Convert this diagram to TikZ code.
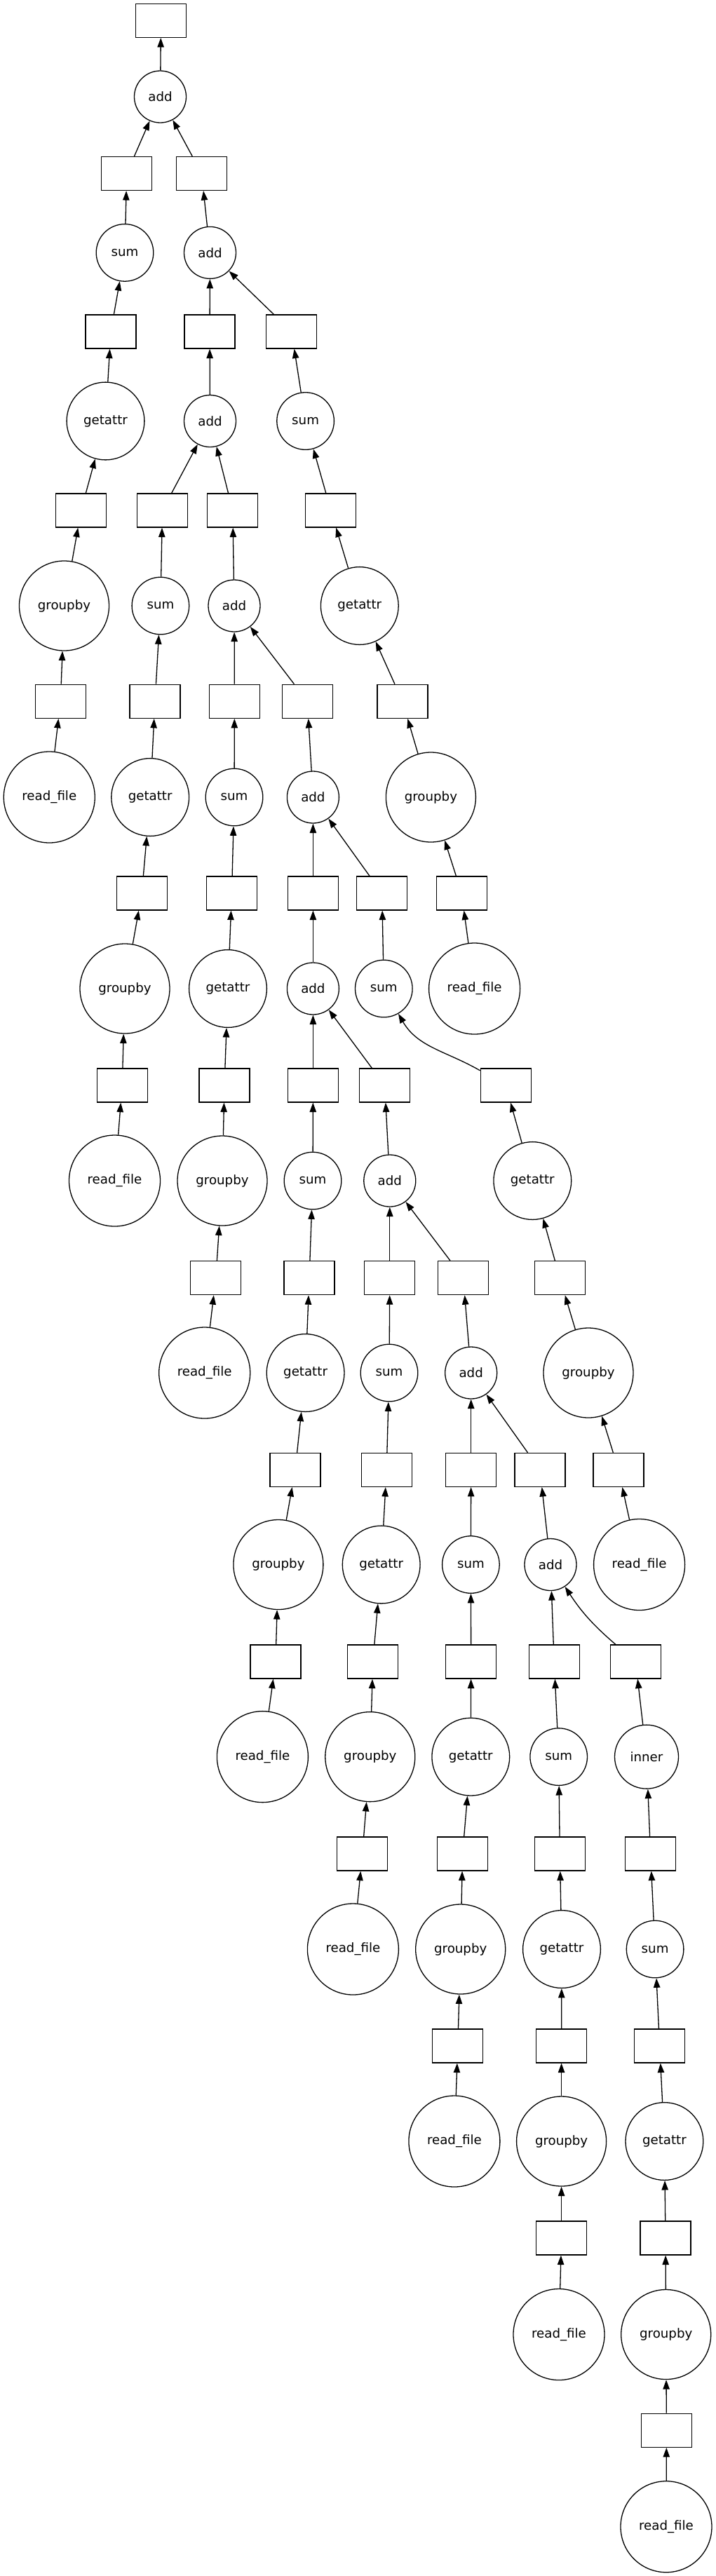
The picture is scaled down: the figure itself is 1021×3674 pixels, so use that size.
\documentclass[tikz,border=0pt]{standalone}
\usepackage{fontspec}
\setmainfont{DejaVu Sans}
\usetikzlibrary{arrows.meta}
\begin{document}
\begin{tikzpicture}[x=0.5pt,y=0.5pt,
  every node/.style={font=\fontsize{9.1pt}{11pt}\selectfont},
  databox/.style={draw,line width=0.65pt,rectangle,minimum width=36pt,minimum height=24pt,inner sep=0pt},
  fn/.style={draw,line width=0.65pt,circle,inner sep=0pt},
  fadd/.style={fn,minimum size=37pt},
  fsum/.style={fn,minimum size=40.8pt},
  fget/.style={fn,minimum size=55.4pt},
  fgrp/.style={fn,minimum size=64pt},
  fread/.style={fn,minimum size=65pt},
  finner/.style={fn,minimum size=45.5pt},
  link/.style={line width=0.65pt,-{Triangle[length=6.7pt,width=4.7pt]}}]
\useasboundingbox (0,0) rectangle (1021,-3674);
% function nodes
\node[fadd] (A1) at (228.5,-138) {add};
\node[fsum] (S1) at (178,-360.4) {sum};
\node[fadd] (A2) at (299.5,-360.4) {add};
\node[fget] (G1) at (150.5,-600.5) {getattr};
\node[fadd] (A3) at (299.5,-600.5) {add};
\node[fsum] (S2) at (435.6,-600.5) {sum};
\node[fgrp] (GB1) at (91.5,-864) {groupby};
\node[fsum] (S3) at (228.9,-864) {sum};
\node[fadd] (A4) at (334,-864) {add};
\node[fget] (G2) at (512.8,-864) {getattr};
\node[fread] (R1) at (70.3,-1137) {read\_file};
\node[fget] (G3) at (214.2,-1137) {getattr};
\node[fsum] (S4) at (334,-1137) {sum};
\node[fadd] (A5) at (446.4,-1137) {add};
\node[fgrp] (GB2) at (614.4,-1137) {groupby};
\node[fgrp] (GB3) at (178,-1410) {groupby};
\node[fget] (G4) at (325,-1410) {getattr};
\node[fadd] (A6) at (446.4,-1410) {add};
\node[fsum] (S5) at (547.3,-1410) {sum};
\node[fread] (R2) at (676.6,-1410) {read\_file};
\node[fread] (R3) at (163.5,-1684) {read\_file};
\node[fgrp] (GB4) at (317,-1684) {groupby};
\node[fsum] (S6) at (446,-1684) {sum};
\node[fadd] (A7) at (555.8,-1684) {add};
\node[fget] (G5) at (759.3,-1684) {getattr};
\node[fread] (R4) at (291.7,-1958) {read\_file};
\node[fget] (G6) at (435.6,-1958) {getattr};
\node[fsum] (S7) at (555,-1958) {sum};
\node[fadd] (A8) at (671.7,-1958) {add};
\node[fgrp] (GB5) at (839,-1958) {groupby};
\node[fgrp] (GB6) at (396.9,-2231.5) {groupby};
\node[fget] (G7) at (543.7,-2231.5) {getattr};
\node[fsum] (S8) at (671.4,-2231.5) {sum};
\node[fadd] (A9) at (785,-2231.5) {add};
\node[fread] (R5) at (911.6,-2231.5) {read\_file};
\node[fread] (R6) at (374.4,-2505.6) {read\_file};
\node[fgrp] (GB7) at (527.8,-2505.6) {groupby};
\node[fget] (G8) at (671.3,-2505.6) {getattr};
\node[fsum] (S9) at (796.7,-2505.6) {sum};
\node[finner] (I) at (922,-2505.6) {inner};
\node[fread] (R7) at (503.4,-2780) {read\_file};
\node[fgrp] (GB8) at (656.7,-2780) {groupby};
\node[fget] (G9) at (801,-2780) {getattr};
\node[fsum] (S10) at (934.1,-2780) {sum};
\node[fread] (R8) at (647.9,-3054) {read\_file};
\node[fgrp] (GB9) at (800.6,-3054) {groupby};
\node[fget] (G10) at (947.4,-3054) {getattr};
\node[fread] (R9) at (797,-3329.5) {read\_file};
\node[fgrp] (GB10) at (949.7,-3329.5) {groupby};
\node[fread] (R10) at (950,-3603.7) {read\_file};
% data boxes
\node[databox] (oA1) at (229.5,-29.3) {};
\node[databox] (oS1) at (180.7,-247.5) {};
\node[databox] (oA2) at (287.5,-247.5) {};
\node[databox] (oG1) at (158,-473) {};
\node[databox] (oA3) at (299,-473) {};
\node[databox] (oS2) at (415.8,-473) {};
\node[databox] (oGB1) at (115.6,-728) {};
\node[databox] (oS3) at (231.5,-728) {};
\node[databox] (oA4) at (331.8,-728) {};
\node[databox] (oG2) at (471.8,-728) {};
\node[databox] (oR1) at (86.3,-1000.3) {};
\node[databox] (oG3) at (221,-1000.3) {};
\node[databox] (oS4) at (334.4,-1000.3) {};
\node[databox] (oA5) at (438.3,-1000.3) {};
\node[databox] (oGB2) at (574,-1000.3) {};
\node[databox] (oGB3) at (202.2,-1274) {};
\node[databox] (oG4) at (330.5,-1274) {};
\node[databox] (oA6) at (446.4,-1274) {};
\node[databox] (oS5) at (544.7,-1274) {};
\node[databox] (oR2) at (658.3,-1274) {};
\node[databox] (oR3) at (174.2,-1548) {};
\node[databox] (oGB4) at (320,-1548) {};
\node[databox] (oS6) at (446.4,-1548) {};
\node[databox] (oA7) at (548.6,-1548) {};
\node[databox] (oG5) at (721.2,-1548) {};
\node[databox] (oR4) at (307.7,-1822.6) {};
\node[databox] (oG6) at (441,-1822.6) {};
\node[databox] (oS7) at (555.8,-1822.6) {};
\node[databox] (oA8) at (660.6,-1822.6) {};
\node[databox] (oGB5) at (798.3,-1822.6) {};
\node[databox] (oGB6) at (421,-2096.4) {};
\node[databox] (oG7) at (551.2,-2096.4) {};
\node[databox] (oS8) at (671.7,-2096.4) {};
\node[databox] (oA9) at (770,-2096.4) {};
\node[databox] (oR5) at (882,-2096.4) {};
\node[databox] (oR6) at (393,-2370) {};
\node[databox] (oGB7) at (531.7,-2370) {};
\node[databox] (oG8) at (671.7,-2370) {};
\node[databox] (oS9) at (790.2,-2370) {};
\node[databox] (oI) at (906.4,-2370) {};
\node[databox] (oR7) at (516.7,-2644) {};
\node[databox] (oGB8) at (659.6,-2644) {};
\node[databox] (oG9) at (798.3,-2644) {};
\node[databox] (oS10) at (927.6,-2644) {};
\node[databox] (oR8) at (652.8,-2918) {};
\node[databox] (oGB9) at (800.6,-2918) {};
\node[databox] (oG10) at (940.6,-2918) {};
\node[databox] (oR9) at (800.6,-3192) {};
\node[databox] (oGB10) at (949,-3192) {};
\node[databox] (oR10) at (950.4,-3466.3) {};
% edges
\draw[link] (A1) -- (oA1);
\draw[link] (S1) -- (oS1); \draw[link] (oS1) -- (A1);
\draw[link] (A2) -- (oA2); \draw[link] (oA2) -- (A1);
\draw[link] (G1) -- (oG1); \draw[link] (oG1) -- (S1);
\draw[link] (A3) -- (oA3); \draw[link] (oA3) -- (A2);
\draw[link] (S2) -- (oS2); \draw[link] (oS2) -- (A2);
\draw[link] (GB1) -- (oGB1); \draw[link] (oGB1) -- (G1);
\draw[link] (S3) -- (oS3); \draw[link] (oS3) -- (A3);
\draw[link] (A4) -- (oA4); \draw[link] (oA4) -- (A3);
\draw[link] (G2) -- (oG2); \draw[link] (oG2) -- (S2);
\draw[link] (R1) -- (oR1); \draw[link] (oR1) -- (GB1);
\draw[link] (G3) -- (oG3); \draw[link] (oG3) -- (S3);
\draw[link] (S4) -- (oS4); \draw[link] (oS4) -- (A4);
\draw[link] (A5) -- (oA5); \draw[link] (oA5) -- (A4);
\draw[link] (GB2) -- (oGB2); \draw[link] (oGB2) -- (G2);
\draw[link] (GB3) -- (oGB3); \draw[link] (oGB3) -- (G3);
\draw[link] (G4) -- (oG4); \draw[link] (oG4) -- (S4);
\draw[link] (A6) -- (oA6); \draw[link] (oA6) -- (A5);
\draw[link] (S5) -- (oS5); \draw[link] (oS5) -- (A5);
\draw[link] (R2) -- (oR2); \draw[link] (oR2) -- (GB2);
\draw[link] (R3) -- (oR3); \draw[link] (oR3) -- (GB3);
\draw[link] (GB4) -- (oGB4); \draw[link] (oGB4) -- (G4);
\draw[link] (S6) -- (oS6); \draw[link] (oS6) -- (A6);
\draw[link] (A7) -- (oA7); \draw[link] (oA7) -- (A6);
\draw[link] (G5) -- (oG5); \draw[link] (oG5) to[out=150,in=-60] (S5);
\draw[link] (R4) -- (oR4); \draw[link] (oR4) -- (GB4);
\draw[link] (G6) -- (oG6); \draw[link] (oG6) -- (S6);
\draw[link] (S7) -- (oS7); \draw[link] (oS7) -- (A7);
\draw[link] (A8) -- (oA8); \draw[link] (oA8) -- (A7);
\draw[link] (GB5) -- (oGB5); \draw[link] (oGB5) -- (G5);
\draw[link] (GB6) -- (oGB6); \draw[link] (oGB6) -- (G6);
\draw[link] (G7) -- (oG7); \draw[link] (oG7) -- (S7);
\draw[link] (S8) -- (oS8); \draw[link] (oS8) -- (A8);
\draw[link] (A9) -- (oA9); \draw[link] (oA9) -- (A8);
\draw[link] (R5) -- (oR5); \draw[link] (oR5) -- (GB5);
\draw[link] (R6) -- (oR6); \draw[link] (oR6) -- (GB6);
\draw[link] (GB7) -- (oGB7); \draw[link] (oGB7) -- (G7);
\draw[link] (G8) -- (oG8); \draw[link] (oG8) -- (S8);
\draw[link] (S9) -- (oS9); \draw[link] (oS9) -- (A9);
\draw[link] (I) -- (oI); \draw[link] (oI) to[bend left=8] (A9);
\draw[link] (R7) -- (oR7); \draw[link] (oR7) -- (GB7);
\draw[link] (GB8) -- (oGB8); \draw[link] (oGB8) -- (G8);
\draw[link] (G9) -- (oG9); \draw[link] (oG9) -- (S9);
\draw[link] (S10) -- (oS10); \draw[link] (oS10) -- (I);
\draw[link] (R8) -- (oR8); \draw[link] (oR8) -- (GB8);
\draw[link] (GB9) -- (oGB9); \draw[link] (oGB9) -- (G9);
\draw[link] (G10) -- (oG10); \draw[link] (oG10) -- (S10);
\draw[link] (R9) -- (oR9); \draw[link] (oR9) -- (GB9);
\draw[link] (GB10) -- (oGB10); \draw[link] (oGB10) -- (G10);
\draw[link] (R10) -- (oR10); \draw[link] (oR10) -- (GB10);
\end{tikzpicture}
\end{document}
